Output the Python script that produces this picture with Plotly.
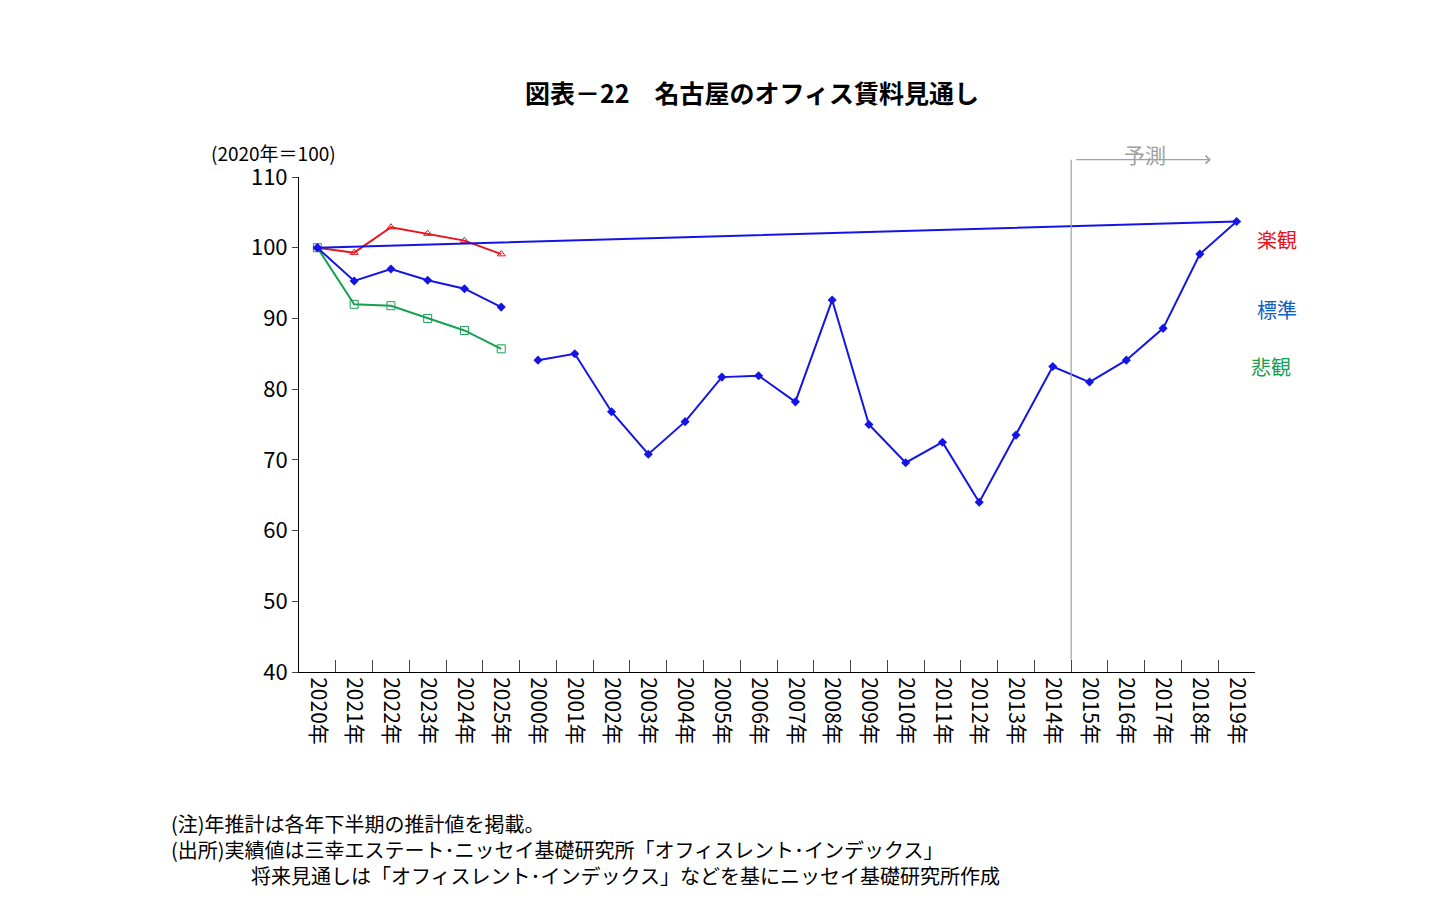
import plotly.graph_objects as go

years = [f"{y}年" for y in range(2000, 2026)]
actual = [84.1, 85.0, 76.8, 70.8, 75.4, 81.7, 81.9, 78.2, 92.6, 75.0, 69.6,
          72.5, 64.0, 73.5, 83.2, 81.0, 84.1, 88.6, 99.1, 103.7, 100.0]
fc_years = years[20:]
standard = [100.0, 95.3, 97.0, 95.4, 94.2, 91.6]
optimistic = [100.0, 99.3, 102.9, 102.0, 101.0, 99.1]
pessimistic = [100.0, 92.0, 91.8, 90.0, 88.3, 85.7]

FONT = "Noto Sans CJK JP"
fig = go.Figure()
fig.add_trace(go.Scatter(x=fc_years, y=optimistic, mode="lines+markers",
                         line=dict(color="#e8141c", width=2),
                         marker=dict(symbol="triangle-up-open", size=7, color="#e8141c")))
fig.add_trace(go.Scatter(x=fc_years, y=pessimistic, mode="lines+markers",
                         line=dict(color="#16a050", width=2),
                         marker=dict(symbol="square-open", size=8, color="#16a050")))
fig.add_trace(go.Scatter(x=years[:21], y=actual, mode="lines+markers",
                         line=dict(color="#1414e6", width=2),
                         marker=dict(symbol="diamond", size=7, color="#1414e6")))
fig.add_trace(go.Scatter(x=fc_years, y=standard, mode="lines+markers",
                         line=dict(color="#1414e6", width=2),
                         marker=dict(symbol="diamond", size=7, color="#1414e6")))

# forecast divider and arrow
fig.add_shape(type="line", xref="x", yref="paper", x0=20.5, x1=20.5, y0=0.025, y1=1.035,
              line=dict(color="#a0a0a0", width=1.2))
fig.add_annotation(xref="x", yref="y domain", x=24.3, y=1.035, ax=20.6, ay=1.035,
                   axref="x", ayref="y domain", text="", showarrow=True,
                   arrowhead=4, arrowsize=1.3, arrowwidth=1.2, arrowcolor="#a0a0a0")
fig.add_annotation(xref="x", yref="paper", x=22.5, y=1.08, text="予測", showarrow=False,
                   font=dict(size=21, color="#a0a0a0"))

for txt, yv, col, dx in [("楽観", 101.1, "#e8141c", 0), ("標準", 91.3, "#1060c0", 0),
                          ("悲観", 83.2, "#16a050", -6)]:
    fig.add_annotation(xref="paper", yref="y", x=1.0, y=yv, xanchor="left", xshift=dx,
                       text=txt, showarrow=False, font=dict(size=20, color=col))

fig.add_annotation(xref="paper", yref="paper", x=0.5, xanchor="center", y=1.0, yshift=105,
                   text="<b>図表－22　名古屋のオフィス賃料見通し</b>", showarrow=False,
                   font=dict(size=25, color="black"), xshift=-25)
fig.add_annotation(xref="paper", yref="paper", x=0, y=1.0, yshift=40, xshift=-90,
                   xanchor="left", text="(2020年＝100)", showarrow=False,
                   font=dict(size=19, color="black"))
fig.add_annotation(xref="paper", yref="paper", x=0, y=0, yshift=-135, xshift=-130,
                   xanchor="left", yanchor="top", align="left", showarrow=False,
                   text="(注)年推計は各年下半期の推計値を掲載。<br>"
                        "(出所)実績値は三幸エステート･ニッセイ基礎研究所「オフィスレント･インデックス」<br>"
                        "　　　　将来見通しは「オフィスレント･インデックス」などを基にニッセイ基礎研究所作成",
                   font=dict(size=20, color="black"))

fig.update_layout(
    width=1443, height=911, showlegend=False,
    margin=dict(l=291, r=196, t=169, b=247),
    paper_bgcolor="white", plot_bgcolor="white",
    font=dict(family=FONT, color="black"),
    xaxis=dict(type="category", tickangle=90, showgrid=False, showline=True,
               linecolor="black", linewidth=1, ticks="inside", ticklen=12,
               tickson="boundaries", tickfont=dict(size=21), range=[-0.5, 25.5]),
    yaxis=dict(range=[40, 110], dtick=10, showgrid=False, showline=True,
               linecolor="black", linewidth=1, ticks="outside", ticklen=6,
               tickfont=dict(size=22), zeroline=False),
)
fig.write_html("out.html")
